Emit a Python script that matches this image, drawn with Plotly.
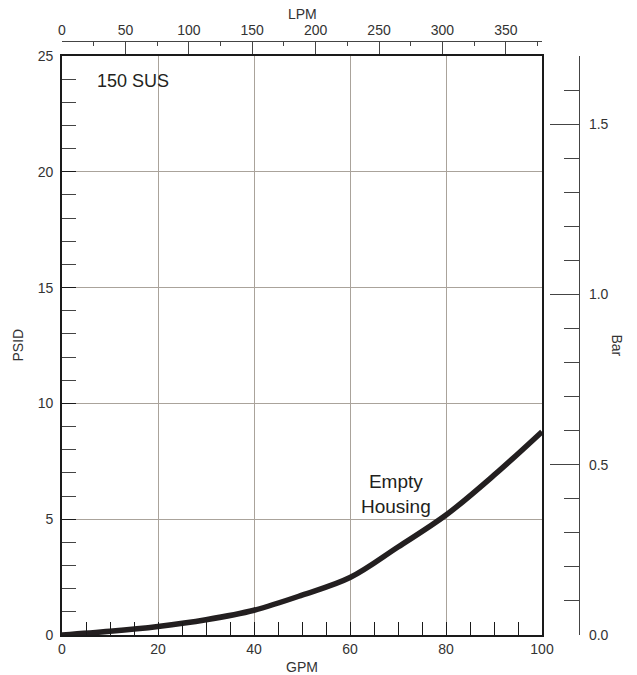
import plotly.graph_objects as go

# Pressure drop curve for the empty housing (150 SUS fluid)
flow_gpm = [0, 10, 20, 30, 40, 50, 60, 70, 80, 90, 100]
dp_psid = [0, 0.16, 0.37, 0.66, 1.07, 1.72, 2.48, 3.8, 5.18, 6.9, 8.78]

gpm_ticks = [0, 20, 40, 60, 80, 100]
psid_ticks = [0, 5, 10, 15, 20, 25]
lpm_ticks = [0, 50, 100, 150, 200, 250, 300, 350]
bar_ticks = [0.0, 0.5, 1.0, 1.5]

GPM_MAX = 100
PSID_MAX = 25
LPM_MAX = 378.5
BAR_MAX = 1.7

W, H = 637, 675
L, R, T, B = 62, 57, 41, 40
plot_w, plot_h = 480, 579
paper_w = W - L - R
paper_h = H - T - B

FONT = "Liberation Sans, Arial, sans-serif"
TXT = "#333333"
GRID = "#aaa39b"
AX = "#1a1a1a"

fig = go.Figure()
fig.add_trace(go.Scatter(
    x=flow_gpm, y=dp_psid, mode="lines",
    line=dict(color="#231f20", width=5.5, shape="spline", smoothing=1.0),
    hoverinfo="skip", showlegend=False,
))
# invisible traces so the secondary axes get drawn
fig.add_trace(go.Scatter(x=[0], y=[0], xaxis="x2", yaxis="y", mode="markers",
                         marker=dict(opacity=0), hoverinfo="skip", showlegend=False))
fig.add_trace(go.Scatter(x=[0], y=[0], xaxis="x", yaxis="y2", mode="markers",
                         marker=dict(opacity=0), hoverinfo="skip", showlegend=False))

fig.update_layout(
    width=W, height=H,
    margin=dict(l=L, r=R, t=T, b=B),
    paper_bgcolor="white", plot_bgcolor="white",
    font=dict(family=FONT, size=14, color=TXT),
    xaxis=dict(
        domain=[0, plot_w / paper_w], range=[0, GPM_MAX],
        tickvals=gpm_ticks, ticks="inside", ticklen=13, tickwidth=1.2, tickcolor=AX,
        minor=dict(dtick=5, ticks="inside", ticklen=13, tickwidth=1.2, tickcolor=AX, showgrid=False),
        showgrid=True, gridcolor=GRID, gridwidth=1.2,
        showline=True, linecolor=AX, linewidth=1.6, mirror=True,
        zeroline=False, tickfont=dict(size=14, color=TXT),
    ),
    yaxis=dict(
        domain=[0, plot_h / paper_h], range=[0, PSID_MAX],
        tickvals=psid_ticks, ticks="inside", ticklen=14, tickwidth=1.2, tickcolor=AX,
        minor=dict(dtick=1, ticks="inside", ticklen=14, tickwidth=1.2, tickcolor="#444444", showgrid=False),
        showgrid=True, gridcolor=GRID, gridwidth=1.2,
        showline=True, linecolor=AX, linewidth=1.6, mirror=True,
        zeroline=False, tickfont=dict(size=14, color=TXT), ticklabelstandoff=4,
    ),
    xaxis2=dict(
        overlaying="x", anchor="free", position=1, side="top",
        range=[0, LPM_MAX], tickvals=lpm_ticks,
        ticks="inside", ticklen=12, tickwidth=1.2, tickcolor="#444444",
        minor=dict(dtick=25, ticks="inside", ticklen=4, tickwidth=1.2, tickcolor="#444444", showgrid=False),
        showgrid=False, zeroline=False,
        showline=True, linecolor="#444444", linewidth=1.2,
        tickfont=dict(size=14, color=TXT),
    ),
    yaxis2=dict(
        overlaying="y", anchor="free", position=(579 - L) / paper_w, side="right",
        range=[0, BAR_MAX], tickvals=bar_ticks, tickformat=".1f",
        ticks="inside", ticklen=29, tickwidth=1.2, tickcolor="#444444",
        minor=dict(dtick=0.1, ticks="inside", ticklen=15, tickwidth=1.2, tickcolor="#444444", showgrid=False),
        showgrid=False, zeroline=False,
        showline=True, linecolor="#444444", linewidth=1.2,
        tickfont=dict(size=14, color=TXT), ticklabelstandoff=6,
    ),
    annotations=[
        dict(text="150 SUS", x=6.9, y=23.9, xref="x", yref="y", xanchor="left", yanchor="middle",
             showarrow=False, font=dict(size=18, color="#231f20")),
        dict(text="Empty<br>Housing", x=69.6, y=6.1, xref="x", yref="y", xanchor="center", yanchor="middle",
             showarrow=False, align="center", font=dict(size=19, color="#231f20")),
        dict(text="GPM", x=(302 - L) / paper_w, y=0, xref="paper", yref="paper",
             xanchor="center", yanchor="middle", yshift=-(667 - (H - B)), showarrow=False,
             font=dict(size=14, color=TXT)),
        dict(text="LPM", x=(302 - L) / paper_w, y=1, xref="paper", yref="paper",
             xanchor="center", yanchor="middle", yshift=T - 14, showarrow=False,
             font=dict(size=14, color=TXT)),
        dict(text="PSID", x=0, y=(plot_h / paper_h) / 2, xref="paper", yref="paper",
             xanchor="center", yanchor="middle", xshift=17 - L, textangle=-90, showarrow=False,
             font=dict(size=14, color=TXT)),
        dict(text="Bar", x=0, y=(plot_h / paper_h) / 2, xref="paper", yref="paper",
             xanchor="center", yanchor="middle", xshift=617 - L, textangle=90, showarrow=False,
             font=dict(size=14, color=TXT)),
    ],
)

fig.write_html("out.html")
